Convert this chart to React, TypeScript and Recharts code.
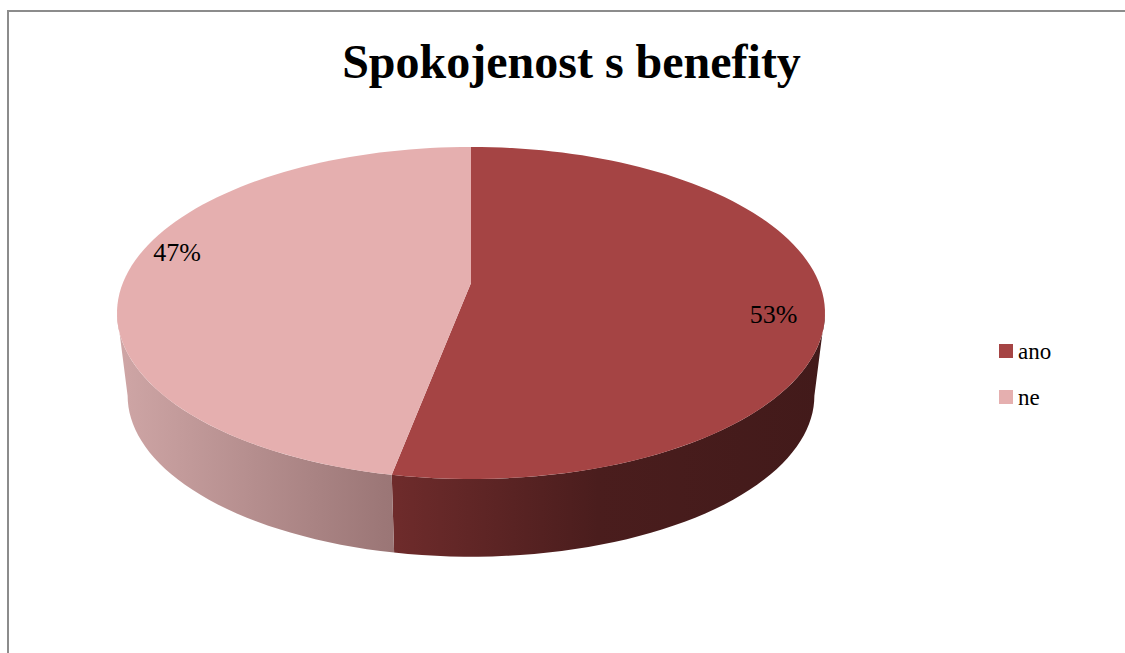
import { PieChart, Pie, Cell, Legend } from "recharts";

const categories = ["ano", "ne"];
const shares = [53, 47];

const topColors = ["#A54444", "#E5AFAF"];
// wall gradient stops, left -> right
const wallColors = [
  ["#8A3838", "#702C2C", "#4A1D1D", "#421A1A"],
  ["#CFA6A6", "#9C7777", "#7A5C5C", "#6A5050"],
];

const data = categories.map((name, i) => ({ name, value: shares[i] }));

const FONT = "'Liberation Serif', 'Times New Roman', serif";
const RAD = Math.PI / 180;
const TILT = 0.469; // ry / rx of the top face
const PERSP = 0.18; // perspective strength
const DEPTH = 0.236; // wall height / rx

// map a point of the (flat) pie disc onto the tilted view
function project(cx: number, cy: number, r: number, angle: number, f: number, drop = 0, shrink = 1) {
  const k = PERSP;
  const ry = r * TILT;
  const sx = r * Math.sqrt(1 - k * k) * shrink;
  const sy = ry * (1 - k * k) * shrink;
  const apexY = cy - ry * k;
  const u = f * Math.cos(angle * RAD);
  const v = -f * Math.sin(angle * RAD);
  const d = 1 - k * v;
  return [cx + (sx * u) / d, apexY + (sy * v) / d + drop];
}

function arcPoints(cx: number, cy: number, r: number, from: number, to: number, drop = 0, shrink = 1) {
  const n = Math.max(2, Math.ceil(Math.abs(to - from) / 2));
  const pts: number[][] = [];
  for (let i = 0; i <= n; i++) {
    const a = from + ((to - from) * i) / n;
    pts.push(project(cx, cy, r, a, 1, drop, shrink));
  }
  return pts;
}

const toPath = (pts: number[][]) =>
  pts.map((p, i) => `${i ? "L" : "M"}${p[0].toFixed(2)},${p[1].toFixed(2)}`).join(" ");

function Slice3D(props: any) {
  const { cx, cy, outerRadius, startAngle, endAngle, index } = props;
  const depth = outerRadius * DEPTH;
  const lo = Math.min(startAngle, endAngle);
  const hi = Math.max(startAngle, endAngle);
  const edge = Math.asin(PERSP) / RAD;
  const visLo = -180 + edge;
  const visHi = -edge;

  const walls: string[] = [];
  for (const shift of [-360, 0, 360]) {
    const a = Math.max(lo + shift, visLo);
    const b = Math.min(hi + shift, visHi);
    if (a < b) {
      const top = arcPoints(cx, cy, outerRadius, b, a);
      const bottom = arcPoints(cx, cy, outerRadius, a, b, depth, 0.97);
      walls.push(toPath([...top, ...bottom]) + " Z");
    }
  }

  const apex = project(cx, cy, outerRadius, 0, 0);
  const rim = arcPoints(cx, cy, outerRadius, startAngle, endAngle);
  const face = toPath([apex, ...rim]) + " Z";
  const gid = `wall-${index}`;
  const stops = wallColors[index];

  return (
    <g>
      <defs>
        <linearGradient id={gid} gradientUnits="userSpaceOnUse" x1={cx - outerRadius} y1={0} x2={cx + outerRadius} y2={0}>
          <stop offset="0" stopColor={stops[0]} />
          <stop offset="0.376" stopColor={stops[1]} />
          <stop offset="0.68" stopColor={stops[2]} />
          <stop offset="1" stopColor={stops[3]} />
        </linearGradient>
      </defs>
      {walls.map((d, i) => (
        <path key={i} d={d} fill={`url(#${gid})`} stroke="none" />
      ))}
      <path d={face} fill={topColors[index]} stroke="none" />
    </g>
  );
}

function renderLabel(props: any) {
  const { cx, cy, outerRadius, midAngle, percent } = props;
  // Excel-like placement: labels sit a bit lower on the right, higher on the left
  const lift = 18 * Math.cos(midAngle * RAD);
  const [x, y] = project(cx, cy, outerRadius, midAngle, 0.86, lift);
  return (
    <text
      x={x}
      y={y}
      textAnchor="middle"
      dominantBaseline="central"
      style={{ fontFamily: FONT, fontSize: 26, fill: "#000" }}
    >
      {`${Math.round(percent * 100)}%`}
    </text>
  );
}

function renderLegend(props: any) {
  const { payload } = props;
  return (
    <div>
      {(payload || []).map((entry: any) => (
        <div key={entry.value} style={{ display: "flex", alignItems: "center", height: 46 }}>
          <span style={{ width: 14, height: 14, background: entry.color, marginRight: 5, display: "inline-block" }} />
          <span style={{ fontFamily: FONT, fontSize: 23, lineHeight: "23px", color: "#000" }}>{entry.value}</span>
        </div>
      ))}
    </div>
  );
}

export default function App() {
  return (
    <div style={{ position: "fixed", left: 0, top: 0, width: 1125, height: 653, overflow: "hidden", background: "#fff" }}>
      <div
        style={{
          position: "absolute",
          left: 7,
          top: 10,
          width: 1200,
          height: 700,
          border: "2px solid #8C8C8C",
        }}
      />
      <div
        style={{
          position: "absolute",
          left: 0,
          top: 38,
          width: 1143,
          textAlign: "center",
          fontFamily: FONT,
          fontWeight: "bold",
          fontSize: 48,
          lineHeight: "48px",
          color: "#000",
        }}
      >
        Spokojenost s benefity
      </div>
      <div style={{ position: "absolute", left: 0, top: 0 }}>
        <PieChart width={1125} height={653} margin={{ top: 0, right: 0, bottom: 0, left: 0 }}>
          <Pie
            data={data}
            dataKey="value"
            nameKey="name"
            cx={471}
            cy={313}
            outerRadius={354}
            startAngle={90}
            endAngle={-270}
            shape={Slice3D}
            activeShape={Slice3D}
            label={renderLabel}
            labelLine={false}
            isAnimationActive={false}
          >
            {data.map((d, i) => (
              <Cell key={d.name} fill={topColors[i]} />
            ))}
          </Pie>
          <Legend
            content={renderLegend}
            wrapperStyle={{ position: "absolute", left: 999, top: 328, width: 110, bottom: "auto", right: "auto" }}
          />
        </PieChart>
      </div>
    </div>
  );
}
